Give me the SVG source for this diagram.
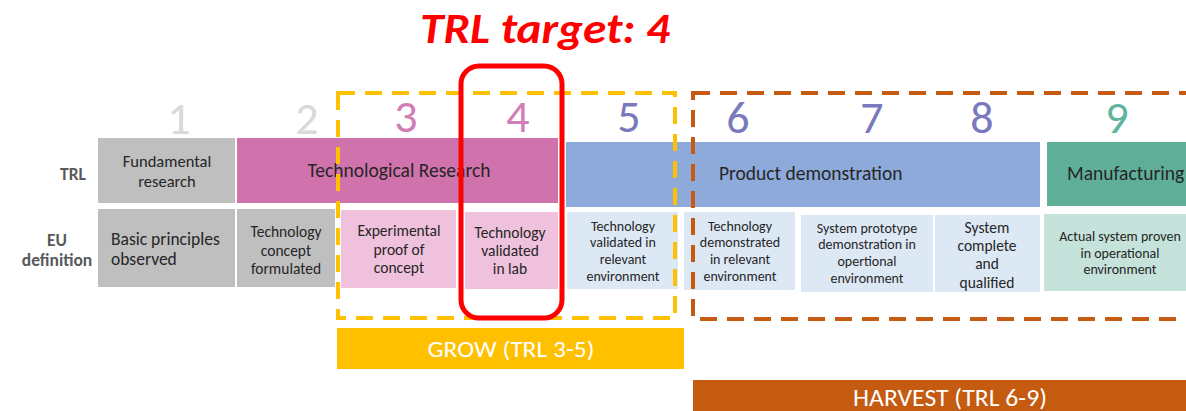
<svg xmlns="http://www.w3.org/2000/svg" width="1186" height="411" viewBox="0 0 1186 411">
<style>
text{font-family:Carlito,Lato,"Open Sans",sans-serif;fill:#262626;}
.num{font-size:46px;text-anchor:middle;}
.band{font-size:19.5px;}
.def{text-anchor:middle;font-size:15.5px;}
.sm{text-anchor:middle;font-size:14px;}
.lbl{font-size:17.5px;fill:#595959;font-weight:bold;text-anchor:middle;}
.dash{fill:none;stroke-width:4;stroke-dasharray:17 10;}
</style>
<rect width="1186" height="411" fill="#ffffff"/>
<g id="title"><text x="545" y="43" text-anchor="middle" font-size="42" font-weight="bold" font-style="italic" style="fill:#ff0000" textLength="250" lengthAdjust="spacingAndGlyphs">TRL target: 4</text></g>
<g id="labels">
<text class="lbl" x="73" y="180">TRL</text>
<text class="lbl" x="57" y="246">EU</text>
<text class="lbl" x="57" y="266">definition</text>
</g>
<g id="numbers">
<text class="num" x="179" y="134" style="fill:#d9d9d9">1</text>
<text class="num" x="307" y="134" style="fill:#d9d9d9">2</text>
<text class="num" x="406" y="132" style="fill:#d17eb7">3</text>
<text class="num" x="518" y="132" style="fill:#d17eb7">4</text>
<text class="num" x="629" y="132" style="fill:#7b78bd">5</text>
<text class="num" x="738" y="133" style="fill:#7b78bd">6</text>
<text class="num" x="872" y="133" style="fill:#7b78bd">7</text>
<text class="num" x="982" y="133" style="fill:#7b78bd">8</text>
<text class="num" x="1117" y="133" style="fill:#5fb49c">9</text>
</g>
<g id="trl-row">
<g id="fundamental"><rect x="98" y="138" width="137" height="65" fill="#bfbfbf"/>
<text x="167" y="167" text-anchor="middle" font-size="16.5">Fundamental</text>
<text x="167" y="187" text-anchor="middle" font-size="16.5">research</text></g>
<g id="techresearch"><rect x="237" y="138" width="321" height="65" fill="#d073ad"/>
<text class="band" x="399" y="177" text-anchor="middle">Technological Research</text></g>
<g id="productdemo"><rect x="566" y="142" width="474" height="65" fill="#8eaadb"/>
<text class="band" x="719" y="180">Product demonstration</text></g>
<g id="manufacturing"><rect x="1047" y="142" width="139" height="64" fill="#5fae97"/>
<text class="band" x="1067" y="180">Manufacturing</text></g>
</g>
<g id="eu-row">
<g id="d1"><rect x="98" y="209" width="137" height="78" fill="#bfbfbf"/>
<text x="111" y="245" font-size="17.5">Basic principles</text>
<text x="111" y="265" font-size="17.5">observed</text></g>
<g id="d2"><rect x="237" y="209" width="98" height="78" fill="#bfbfbf"/>
<text class="def" x="286" y="237">Technology</text>
<text class="def" x="286" y="256">concept</text>
<text class="def" x="286" y="274">formulated</text></g>
<g id="d3"><rect x="341" y="210" width="115" height="78" fill="#efc1dc"/>
<text class="def" x="399" y="236">Experimental</text>
<text class="def" x="399" y="255">proof of</text>
<text class="def" x="399" y="273">concept</text></g>
<g id="d4"><rect x="465" y="212" width="93" height="77" fill="#efc1dc"/>
<text class="def" x="510" y="238">Technology</text>
<text class="def" x="510" y="256">validated</text>
<text class="def" x="510" y="274">in lab</text></g>
<g id="d5"><rect x="567" y="212" width="111" height="77" fill="#dde8f5"/>
<text class="sm" x="623" y="231">Technology</text>
<text class="sm" x="623" y="247">validated in</text>
<text class="sm" x="623" y="264">relevant</text>
<text class="sm" x="623" y="281">environment</text></g>
<g id="d6"><rect x="684" y="212" width="111" height="78" fill="#dde8f5"/>
<text class="sm" x="740" y="231">Technology</text>
<text class="sm" x="740" y="247">demonstrated</text>
<text class="sm" x="740" y="264">in relevant</text>
<text class="sm" x="740" y="281">environment</text></g>
<g id="d7"><rect x="801" y="215" width="132" height="77" fill="#dde8f5"/>
<text class="sm" x="867" y="233" font-size="13.5">System prototype</text>
<text class="sm" x="867" y="249" font-size="13.5">demonstration in</text>
<text class="sm" x="867" y="266" font-size="13.5">opertional</text>
<text class="sm" x="867" y="283" font-size="13.5">environment</text></g>
<g id="d8"><rect x="935" y="215" width="105" height="77" fill="#dde8f5"/>
<text class="def" x="987" y="233">System</text>
<text class="def" x="987" y="251">complete</text>
<text class="def" x="987" y="269">and</text>
<text class="def" x="987" y="288">qualified</text></g>
<g id="d9"><rect x="1044" y="214" width="142" height="77" fill="#c5e3da"/>
<text class="sm" x="1120" y="241" font-size="13.5">Actual system proven</text>
<text class="sm" x="1120" y="258" font-size="13.5">in operational</text>
<text class="sm" x="1120" y="274" font-size="13.5">environment</text></g>
</g>
<g id="grow-box"><rect class="dash" x="338" y="93" width="337" height="225" style="stroke:#ffc000"/></g>
<g id="harvest-box"><rect class="dash" x="693" y="93" width="520" height="226" style="stroke:#c55a11"/></g>
<g id="target-box"><rect x="461" y="66" width="101" height="252" rx="18" fill="none" stroke="#ff0000" stroke-width="5"/></g>
<g id="grow"><rect x="337" y="328" width="347" height="41" fill="#ffc000"/>
<text x="511" y="357" text-anchor="middle" font-size="22" style="fill:#ffffff" textLength="167" lengthAdjust="spacingAndGlyphs">GROW (TRL 3-5)</text></g>
<g id="harvest"><rect x="693" y="380" width="493" height="31" fill="#c55a11"/>
<text x="950" y="406" text-anchor="middle" font-size="24" style="fill:#ffffff" textLength="194" lengthAdjust="spacingAndGlyphs">HARVEST (TRL 6-9)</text></g>
</svg>
